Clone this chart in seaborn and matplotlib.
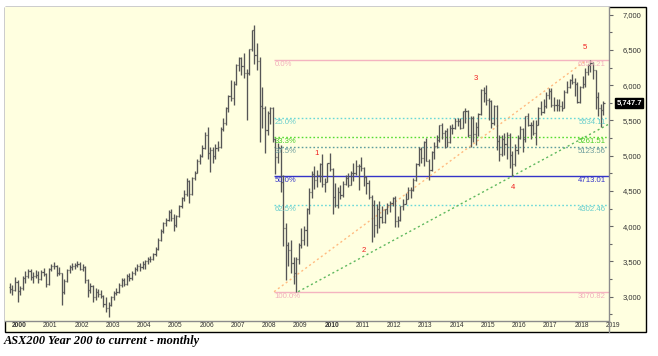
import numpy as np
import pandas as pd
import seaborn as sns
import matplotlib
matplotlib.use("Agg")
import matplotlib.pyplot as plt
from matplotlib.patches import Rectangle
from matplotlib.lines import Line2D
from matplotlib.ticker import MultipleLocator, FuncFormatter

# Monthly bars Jan 2000 .. Jan 2019
opens = [
    3140, 3110, 3100, 3210, 3080, 3120, 3270, 3300, 3360, 3280, 3300, 3310,
    3250, 3350, 3320, 3180, 3390, 3440, 3430, 3340, 3330, 3060, 3220, 3380,
    3420, 3440, 3450, 3470, 3400, 3420, 3230, 3100, 3150, 2990, 3070, 3040,
    3010, 2900, 2840, 2880, 2990, 3050, 3060, 3170, 3230, 3180, 3300, 3260,
    3340, 3390, 3440, 3420, 3470, 3500, 3530, 3540, 3600, 3680, 3800, 3930,
    4050, 4090, 4200, 4110, 4010, 4150, 4280, 4400, 4450, 4640, 4450, 4680,
    4760, 4930, 5000, 5110, 5300, 5040, 5080, 4990, 5110, 5120, 5380, 5460,
    5670, 5850, 5820, 6020, 6290, 6390, 6270, 6180, 6180, 6510, 6780, 6430,
    6340, 5700, 5680, 5360, 5600, 5670, 5230, 4980, 5110, 4630, 3980, 3740,
    3660, 3480, 3340, 3530, 3740, 3810, 3950, 4250, 4480, 4740, 4650, 4720,
    4880, 4600, 4630, 4890, 4810, 4420, 4300, 4480, 4440, 4600, 4680, 4590,
    4750, 4750, 4860, 4850, 4820, 4700, 4610, 4420, 4300, 4010, 4240, 4130,
    4060, 4240, 4300, 4330, 4400, 4080, 4090, 4280, 4320, 4390, 4520, 4510,
    4650, 4880, 5100, 4970, 5190, 4930, 4800, 5050, 5140, 5220, 5430, 5320,
    5350, 5190, 5400, 5400, 5490, 5490, 5400, 5630, 5630, 5290, 5530, 5310,
    5410, 5590, 5930, 5890, 5790, 5780, 5460, 5700, 5210, 5020, 5240, 5170,
    5300, 5010, 4880, 5080, 5250, 5380, 5230, 5560, 5430, 5440, 5320, 5440,
    5670, 5620, 5710, 5860, 5920, 5720, 5720, 5720, 5710, 5680, 5910, 5970,
    6070, 6040, 6020, 5760, 5980, 6010, 6190, 6280, 6320, 6210, 5830, 5670,
    5650,
]
highs = [
    3200, 3170, 3280, 3230, 3150, 3300, 3360, 3400, 3390, 3350, 3380, 3360,
    3380, 3410, 3330, 3410, 3470, 3490, 3450, 3420, 3340, 3250, 3400, 3450,
    3480, 3480, 3505, 3490, 3460, 3430, 3250, 3190, 3170, 3120, 3110, 3090,
    3030, 2990, 2930, 3010, 3080, 3130, 3200, 3260, 3270, 3320, 3340, 3360,
    3420, 3460, 3480, 3510, 3520, 3560, 3580, 3620, 3700, 3830, 3960, 4060,
    4110, 4230, 4250, 4180, 4160, 4300, 4420, 4510, 4680, 4650, 4700, 4780,
    4960, 5020, 5150, 5340, 5410, 5120, 5130, 5160, 5210, 5410, 5530, 5690,
    5860, 6070, 6060, 6300, 6400, 6400, 6460, 6230, 6520, 6790, 6860, 6600,
    6400, 5980, 5700, 5630, 5690, 5690, 5250, 5180, 5150, 4720, 4050, 3780,
    3800, 3560, 3560, 3760, 3970, 4000, 4260, 4540, 4780, 4860, 4800, 4900,
    5030, 4680, 4900, 5040, 4820, 4610, 4560, 4590, 4640, 4730, 4760, 4790,
    4900, 4940, 4880, 4980, 4840, 4710, 4660, 4440, 4370, 4320, 4360, 4280,
    4250, 4330, 4360, 4410, 4430, 4150, 4290, 4380, 4470, 4550, 4560, 4680,
    4890, 5120, 5130, 5210, 5250, 4960, 5060, 5200, 5290, 5440, 5460, 5370,
    5400, 5440, 5450, 5530, 5540, 5530, 5630, 5680, 5650, 5560, 5560, 5480,
    5600, 5940, 5980, 6000, 5820, 5790, 5720, 5720, 5290, 5300, 5320, 5330,
    5320, 5070, 5170, 5300, 5420, 5400, 5570, 5600, 5480, 5500, 5510, 5690,
    5780, 5800, 5900, 5960, 5960, 5830, 5800, 5800, 5770, 5930, 6060, 6090,
    6160, 6100, 6040, 5990, 6130, 6240, 6300, 6355, 6330, 6220, 5900, 5730,
    5770,
]
lows = [
    3050, 3020, 3080, 2920, 3020, 3100, 3200, 3270, 3240, 3200, 3260, 3200,
    3230, 3290, 3140, 3170, 3370, 3400, 3300, 3310, 2880, 3040, 3210, 3340,
    3380, 3390, 3420, 3380, 3360, 3190, 3000, 3050, 2930, 2960, 2990, 2980,
    2860, 2780, 2710, 2870, 2960, 3030, 3050, 3140, 3150, 3170, 3220, 3230,
    3310, 3360, 3370, 3400, 3390, 3470, 3490, 3520, 3580, 3660, 3790, 3910,
    4000, 4070, 4080, 3930, 3990, 4130, 4260, 4360, 4430, 4330, 4440, 4650,
    4750, 4880, 4980, 5100, 4950, 4770, 4900, 4960, 5060, 5110, 5350, 5440,
    5620, 5780, 5720, 6000, 6200, 6140, 6100, 5500, 6150, 6480, 6300, 6220,
    5190, 5400, 5040, 5300, 5450, 5200, 4740, 4890, 4480, 3720, 3240, 3440,
    3330, 3180, 3071, 3470, 3690, 3740, 3720, 4170, 4400, 4530, 4550, 4620,
    4560, 4490, 4620, 4790, 4180, 4270, 4260, 4380, 4420, 4580, 4560, 4580,
    4640, 4720, 4520, 4780, 4570, 4450, 4390, 3770, 3850, 3910, 3980, 4040,
    4050, 4180, 4200, 4290, 3990, 3990, 4070, 4230, 4310, 4380, 4400, 4500,
    4640, 4850, 4900, 4850, 4920, 4660, 4780, 4960, 5110, 5200, 5240, 5110,
    5130, 5180, 5310, 5380, 5420, 5380, 5390, 5470, 5270, 5120, 5200, 5150,
    5280, 5580, 5760, 5720, 5500, 5390, 5430, 5080, 4920, 4990, 5010, 4960,
    4820, 4710, 4860, 5030, 5230, 5050, 5200, 5420, 5240, 5290, 5150, 5430,
    5580, 5610, 5680, 5810, 5690, 5640, 5630, 5630, 5630, 5670, 5890, 5960,
    6010, 5850, 5750, 5750, 5960, 5980, 6150, 6190, 6090, 5660, 5560, 5410,
    5580,
]
closes = [
    3110, 3100, 3210, 3080, 3120, 3270, 3300, 3360, 3280, 3300, 3310, 3250,
    3350, 3320, 3180, 3390, 3440, 3430, 3340, 3330, 3060, 3220, 3380, 3420,
    3440, 3450, 3470, 3400, 3420, 3230, 3100, 3150, 2990, 3070, 3040, 3010,
    2900, 2840, 2880, 2990, 3050, 3060, 3170, 3230, 3180, 3300, 3260, 3340,
    3390, 3440, 3420, 3470, 3500, 3530, 3540, 3600, 3680, 3800, 3930, 4050,
    4090, 4200, 4110, 4010, 4150, 4280, 4400, 4450, 4640, 4450, 4680, 4760,
    4930, 5000, 5110, 5300, 5040, 5080, 4990, 5110, 5120, 5380, 5460, 5670,
    5850, 5820, 6020, 6290, 6390, 6270, 6180, 6180, 6510, 6780, 6430, 6340,
    5700, 5680, 5360, 5600, 5670, 5230, 4980, 5110, 4630, 3980, 3740, 3660,
    3480, 3340, 3530, 3740, 3810, 3950, 4250, 4480, 4740, 4650, 4720, 4880,
    4600, 4630, 4890, 4810, 4420, 4300, 4480, 4440, 4600, 4680, 4590, 4750,
    4750, 4860, 4850, 4820, 4700, 4610, 4420, 4300, 4010, 4240, 4130, 4060,
    4240, 4300, 4330, 4400, 4080, 4090, 4280, 4320, 4390, 4520, 4510, 4650,
    4880, 5100, 4970, 5190, 4930, 4800, 5050, 5140, 5220, 5430, 5320, 5350,
    5190, 5400, 5400, 5490, 5490, 5400, 5630, 5630, 5290, 5530, 5310, 5410,
    5590, 5930, 5890, 5790, 5780, 5460, 5700, 5210, 5020, 5240, 5170, 5300,
    5010, 4880, 5080, 5250, 5380, 5230, 5560, 5430, 5440, 5320, 5440, 5670,
    5620, 5710, 5860, 5920, 5720, 5720, 5720, 5710, 5680, 5910, 5970, 6070,
    6040, 6020, 5760, 5980, 6010, 6190, 6280, 6320, 6210, 5830, 5670, 5650,
    5747.7,
]

# Fibonacci retracement levels
fib_pct = ["0.0%", "25.0%", "33.3%", "37.5%", "50.0%", "62.5%", "100.0%"]
fib_vals = [6355.21, 5534.11, 5261.51, 5123.56, 4713.01, 4302.46, 3070.82]
fib_line_col = ["#f4b4c0", "#6ad8d8", "#55dd33", "#5f9e9e", "#3434c8", "#6ad8d8", "#f4b4c0"]
fib_text_col = ["#f2b0bc", "#66cccc", "#44cc22", "#6c9c9c", "#3434c8", "#66cccc", "#f2b0bc"]
fib_dotted = [False, True, True, True, False, True, False]
fib_start = 2008.46

# Elliott wave counts
wave_txt = ["1", "2", "3", "4", "5"]
wave_x = [2009.83, 2011.34, 2014.92, 2016.11, 2018.41]
wave_y = [5025, 3660, 6090, 4555, 6530]

# trend lines
orange_x = [2008.46, 2018.45]
orange_y = [3070.82, 6355.21]
green_x = [2009.23, 2019.18]
green_y = [3070.82, 5450]

years = list(range(2000, 2020))
last_price = 5747.7
caption = "ASX200 Year 200 to current - monthly"

W, H = 658, 356

df = pd.DataFrame({"open": opens, "high": highs, "low": lows, "close": closes})
df["date"] = pd.date_range("2000-01-01", periods=len(df), freq="MS")
df["t"] = df["date"].dt.year + (df["date"].dt.month - 1) / 12

sns.set_theme(style="white")
plt.rcParams["font.family"] = ["Liberation Sans", "DejaVu Sans"]

cream = "#ffffe0"
fig = plt.figure(figsize=(W / 100, H / 100), dpi=100)
fig.patch.set_facecolor("white")
fig.patches.append(Rectangle((5 / W, 1 - 332 / H), 641 / W, 325 / H, transform=fig.transFigure,
                             facecolor=cream, edgecolor="black", lw=1.0, zorder=-5))
ax = fig.add_axes([5 / W, 1 - 321 / H, 604 / W, 314 / H])
ax.set_facecolor(cream)

x0 = 2000 + (5 - 9.7) / 31.25
x1 = 2000 + (609 - 9.7) / 31.25
ax.set_xlim(x0, x1)
ax.set_ylim(7000 - (321 - 14.7) / 0.0705, 7000 + (14.7 - 7) / 0.0705)

# OHLC bars
bar_col = "#565656"
w = 0.035
ax.vlines(df["t"], df["low"], df["high"], color=bar_col, lw=0.95, zorder=3)
ax.hlines(df["open"], df["t"] - w, df["t"], color=bar_col, lw=0.9, zorder=3)
ax.hlines(df["close"], df["t"], df["t"] + w, color=bar_col, lw=0.9, zorder=3)

# fib levels
for pct, v, lc, tc, dot in zip(fib_pct, fib_vals, fib_line_col, fib_text_col, fib_dotted):
    ls = (0, (1.2, 1.6)) if dot else "-"
    ax.hlines(v, fib_start, x1, color=lc, lw=1.0, linestyles=[ls], zorder=2)
    ax.text(fib_start + 0.02, v - 15, pct, color=tc, fontsize=5.6, ha="left", va="top", zorder=4)
    ax.text(0.995, v - 15, f"{v:.2f}", color=tc, fontsize=5.6, ha="right", va="top",
            transform=ax.get_yaxis_transform(), zorder=4)

# trend lines
sns.lineplot(x=orange_x, y=orange_y, ax=ax, color="#ffbb80", lw=1.0, linestyle=(0, (1.5, 2)), zorder=2)
sns.lineplot(x=green_x, y=green_y, ax=ax, color="#5fb85f", lw=1.0, linestyle=(0, (1.5, 2)), zorder=2)

for t, x, y in zip(wave_txt, wave_x, wave_y):
    ax.text(x, y, t, color="#f02020", fontsize=5.6, ha="center", va="center", zorder=5)

# axes styling
for s in ["left", "top"]:
    ax.spines[s].set_visible(False)
for s in ["right", "bottom"]:
    ax.spines[s].set_color("#8c8c8c")
    ax.spines[s].set_linewidth(1.0)
fig.lines.append(Line2D([609 / W, 609 / W], [1 - 332 / H, 1 - 321 / H], transform=fig.transFigure,
                        color="#8c8c8c", lw=1.0))

ax.yaxis.tick_right()
ax.yaxis.set_major_locator(MultipleLocator(500))
ax.yaxis.set_minor_locator(MultipleLocator(250))
ax.yaxis.set_major_formatter(FuncFormatter(lambda v, p: f"{v:,.0f}"))
ax.tick_params(axis="y", which="major", direction="out", length=3, width=0.8, color="#666666",
               pad=7, labelsize=5.5, labelcolor="#333333", right=True, left=False)
ax.tick_params(axis="y", which="minor", direction="out", length=2, width=0.8, color="#666666",
               right=True, left=False)

ax.set_xticks(years)
ax.tick_params(axis="x", direction="out", length=3, width=0.8, color="#777777", labelbottom=False)
for yr in years:
    ax.text(yr + 0.07, -0.004, str(yr), transform=ax.get_xaxis_transform(), fontsize=4.8,
            color="#333333", ha="left", va="top", fontweight="bold" if yr % 10 == 0 else "normal")
ax.grid(False)

# last price flag
ax.text(1.012, last_price, f"{last_price:,.1f}", transform=ax.get_yaxis_transform(), color="white",
        fontsize=5.5, fontweight="bold", ha="left", va="center", clip_on=False, zorder=6,
        bbox=dict(boxstyle="square,pad=0.2", fc="black", ec="black"))

fig.text(4 / W, 1 - 341 / H, caption, fontsize=8.9, fontstyle="italic", fontweight="bold",
         family=["Liberation Serif", "DejaVu Serif"], va="center", ha="left", color="black")

fig.savefig("out.png", dpi=100)
